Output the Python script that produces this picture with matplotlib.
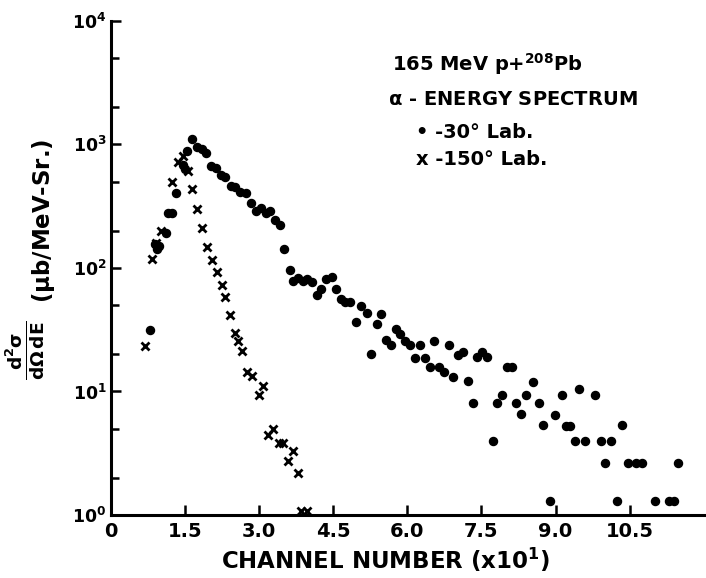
import matplotlib
matplotlib.use('Agg')
import matplotlib.pyplot as plt
from matplotlib.ticker import FixedLocator, NullLocator

# ---- data ----
x30 = [0.79, 0.90, 0.93, 0.97, 1.11, 1.16, 1.23, 1.32, 1.46, 1.51, 1.54, 1.64, 1.75, 1.85, 1.93,
       2.03, 2.12, 2.22, 2.30, 2.43, 2.51, 2.62, 2.74, 2.83, 2.94, 3.03, 3.14, 3.23, 3.33, 3.43,
       3.50, 3.62, 3.69, 3.78, 3.89, 3.97, 4.07, 4.17, 4.25, 4.35, 4.47, 4.56, 4.65, 4.74, 4.84,
       4.97, 5.07, 5.18, 5.27, 5.38, 5.46, 5.56, 5.66, 5.76, 5.86, 5.96, 6.05, 6.15, 6.25, 6.35,
       6.45, 6.54, 6.65, 6.75, 6.85, 6.92, 7.02, 7.12, 7.22, 7.32, 7.41, 7.51, 7.61, 7.73, 7.81,
       7.91, 8.01, 8.11, 8.20, 8.30, 8.41, 8.54, 8.66, 8.75, 8.88, 8.98, 9.12, 9.20, 9.30, 9.40,
       9.48, 9.59, 9.79, 9.91, 10.00, 10.12, 10.24, 10.35, 10.47, 10.63, 10.74, 11.02, 11.29,
       11.39, 11.48]
y30 = [31.6, 155, 141, 150, 190, 276, 276, 405, 676, 637, 882, 1100, 945, 910, 850,
       668, 645, 560, 545, 460, 455, 412, 403, 333, 290, 308, 278, 290, 244, 223,
       141, 97, 78, 83, 78, 82, 77, 60, 68, 81, 84, 68, 56, 53, 53,
       36.5, 49, 43, 20, 35, 42, 26.3, 23.9, 32.3, 29.2, 25.8, 23.9, 18.6, 23.9, 18.6,
       15.7, 25.4, 15.7, 14.5, 23.8, 13.0, 19.9, 20.8, 12.1, 8.05, 19.0, 20.7, 19.0, 3.96, 8.1,
       9.4, 15.8, 15.8, 8.1, 6.6, 9.4, 12.0, 8.05, 5.35, 1.29, 6.5, 9.4, 5.3, 5.3, 3.96,
       10.4, 3.96, 9.4, 3.96, 2.65, 3.96, 1.29, 5.35, 2.65, 2.65, 2.65, 1.29, 1.29,
       1.29, 2.65]

x150 = [0.70, 0.83, 0.91, 1.02, 1.23, 1.35, 1.46, 1.56, 1.65, 1.75, 1.84, 1.94, 2.04, 2.15,
        2.24, 2.31, 2.41, 2.51, 2.57, 2.66, 2.76, 2.85, 3.00, 3.08, 3.19, 3.29, 3.40, 3.49,
        3.58, 3.69, 3.78, 3.85, 3.96]
y150 = [23.2, 117, 160, 200, 500, 722, 802, 608, 437, 300, 210, 147, 115, 92,
        72.4, 57.8, 41.3, 29.7, 25.8, 21.1, 14.5, 13.4, 9.3, 11.1, 4.45, 5.0, 3.86, 3.86,
        2.75, 3.31, 2.18, 1.08, 1.08]

xticks = [0, 1.5, 3.0, 4.5, 6.0, 7.5, 9.0, 10.5]
xtick_labels = ['0', '1.5', '3.0', '4.5', '6.0', '7.5', '9.0', '10.5']
yticks = [1, 10, 100, 1000, 10000]
ytick_labels = [r'$\mathbf{10^{0}}$', r'$\mathbf{10^{1}}$', r'$\mathbf{10^{2}}$',
                r'$\mathbf{10^{3}}$', r'$\mathbf{10^{4}}$']
yminor = [m * 10 ** e for e in range(0, 4) for m in (2, 5)]

# ---- figure ----
fig = plt.figure(figsize=(7.06, 5.78), dpi=100)
ax = fig.add_axes([0.157, 0.109, 0.840, 0.855])

ax.plot(x30, y30, linestyle='none', marker='o', ms=5.8, color='black', mec='black')
ax.plot(x150, y150, linestyle='none', marker='x', ms=5.5, mew=2.0, color='black')

ax.set_yscale('log')
ax.set_xlim(0, 12.0)
ax.set_ylim(1, 10000)

ax.spines['top'].set_visible(False)
ax.spines['right'].set_visible(False)
ax.spines['left'].set_linewidth(2.2)
ax.spines['bottom'].set_linewidth(2.2)

ax.xaxis.set_major_locator(FixedLocator(xticks))
ax.set_xticklabels(xtick_labels)
ax.xaxis.set_minor_locator(NullLocator())
ax.yaxis.set_major_locator(FixedLocator(yticks))
ax.set_yticklabels(ytick_labels)
ax.yaxis.set_minor_locator(FixedLocator(yminor))
ax.yaxis.set_minor_formatter(plt.NullFormatter())

ax.tick_params(axis='x', which='major', direction='in', length=7, width=1.8,
               labelsize=14, pad=5)
ax.tick_params(axis='y', which='major', direction='in', length=7, width=1.8,
               labelsize=12.5, pad=3)
ax.tick_params(axis='y', which='minor', direction='in', length=6, width=1.8)
for lab in ax.get_xticklabels():
    lab.set_fontweight('bold')

fig.text(385 / 706, 1 - 560 / 578, 'CHANNEL NUMBER (x10$^{\\mathbf{1}}$)', fontsize=16.5,
         fontweight='bold', ha='center', va='center')

fig.text(0.036, 0.394, r'$\mathbf{\frac{d^{2}\sigma}{d\Omega\,dE}}$', rotation=90,
         fontsize=19, ha='center', va='center')
fig.text(0.062, 0.618, r'($\mathbf{\mu}$b/MeV-Sr.)', rotation=90, fontsize=16.5,
         fontweight='bold', ha='center', va='center')

# annotation block
ax.text(0.474, 0.912, r'165 MeV p+$^{\mathbf{208}}$Pb', transform=ax.transAxes,
        fontsize=14, fontweight='bold', va='center', ha='left')
ax.text(0.468, 0.84, r'$\mathbf{\alpha}$ - ENERGY SPECTRUM', transform=ax.transAxes,
        fontsize=14, fontweight='bold', va='center', ha='left')
ax.text(0.515, 0.775, '\u2022 -30\u00b0 Lab.', transform=ax.transAxes,
        fontsize=14, fontweight='bold', va='center', ha='left')
ax.text(0.515, 0.72, 'x -150\u00b0 Lab.', transform=ax.transAxes,
        fontsize=14, fontweight='bold', va='center', ha='left')

fig.savefig('out.png', dpi=100, facecolor='white')
